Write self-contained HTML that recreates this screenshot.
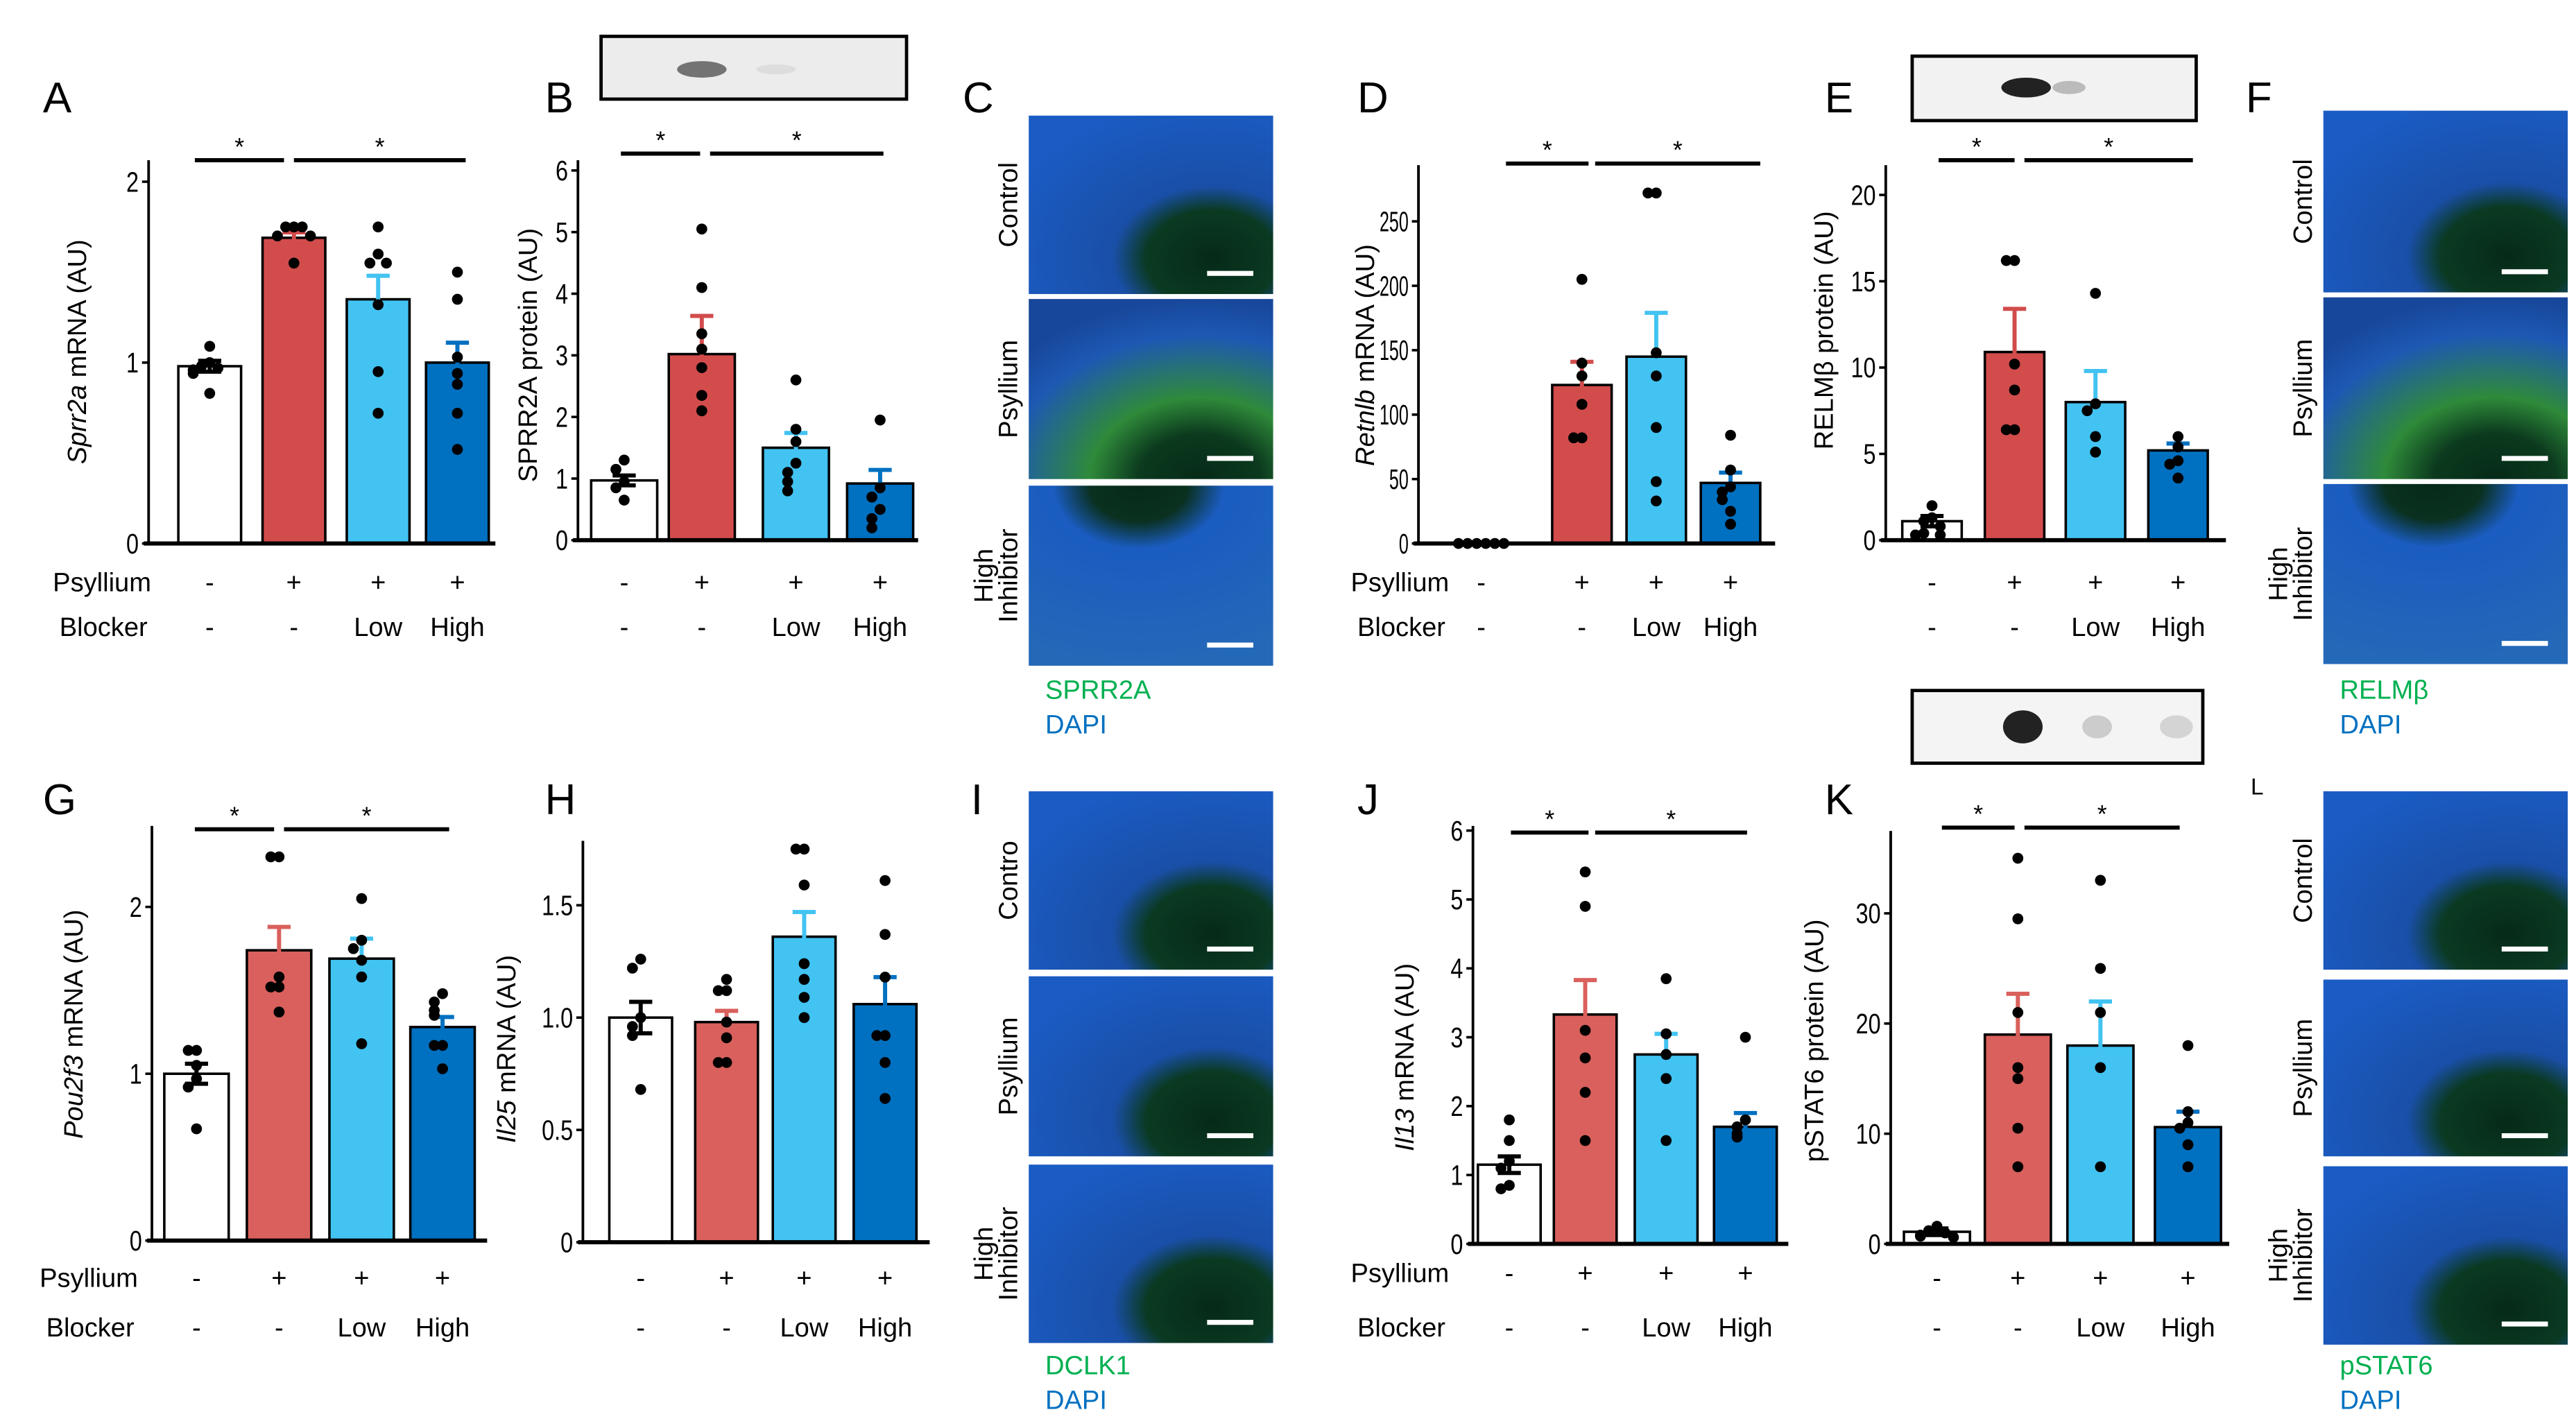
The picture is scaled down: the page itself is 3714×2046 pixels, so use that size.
<!DOCTYPE html>
<html><head><meta charset="utf-8"><style>
html,body{margin:0;padding:0;background:#fff;}
svg{display:block;font-family:"Liberation Sans",Arial,sans-serif;}
</style></head><body>
<svg id="fig" width="3714" height="2046" viewBox="0 0 1560 859" preserveAspectRatio="none" xmlns="http://www.w3.org/2000/svg">
<defs>
<radialGradient id="tis" cx="0.75" cy="0.8" r="0.9">
<stop offset="0" stop-color="#062a18"/><stop offset="0.3" stop-color="#0a3a22"/><stop offset="0.45" stop-color="#1a4fa8"/><stop offset="1" stop-color="#1a5cc4"/></radialGradient>
<radialGradient id="tisG" cx="0.7" cy="1" r="1"><stop offset="0" stop-color="#062a18"/><stop offset="0.25" stop-color="#0b3a1e"/><stop offset="0.45" stop-color="#2f8a3a"/><stop offset="0.8" stop-color="#1d58b4"/><stop offset="1" stop-color="#17479a"/></radialGradient>
<radialGradient id="tisT" cx="0.45" cy="0" r="1"><stop offset="0" stop-color="#062a18"/><stop offset="0.2" stop-color="#0a3020"/><stop offset="0.35" stop-color="#1a5cc0"/><stop offset="1" stop-color="#2468b8"/></radialGradient>
</defs>
<g id="static">
<text x="26" y="68" font-size="26">A</text>
<text x="330" y="68" font-size="26">B</text>
<text x="583" y="68" font-size="26">C</text>
<text x="822" y="68" font-size="26">D</text>
<text x="1105" y="68" font-size="26">E</text>
<text x="1360" y="68" font-size="26">F</text>
<text x="26" y="493" font-size="26">G</text>
<text x="330" y="493" font-size="26">H</text>
<text x="588" y="493" font-size="26">I</text>
<text x="822" y="493" font-size="26">J</text>
<text x="1105" y="493" font-size="26">K</text>
<text x="1363" y="481" font-size="14">L</text>
<g><rect x="364" y="22" width="185" height="38" fill="#ececec" stroke="#000" stroke-width="2"/><ellipse cx="425" cy="42" rx="15" ry="5" fill="#555" opacity="0.8"/><ellipse cx="470" cy="42" rx="12" ry="3" fill="#ddd"/></g>
<g><rect x="1158" y="34" width="172" height="39" fill="#f2f2f2" stroke="#000" stroke-width="2"/><ellipse cx="1227" cy="53" rx="15" ry="6" fill="#222"/><ellipse cx="1253" cy="53" rx="10" ry="4" fill="#bbb"/></g>
<g><rect x="1158" y="418" width="176" height="44" fill="#f4f4f4" stroke="#000" stroke-width="2"/><ellipse cx="1225" cy="440" rx="12" ry="10" fill="#222"/><ellipse cx="1270" cy="440" rx="9" ry="7" fill="#ccc"/><ellipse cx="1318" cy="440" rx="10" ry="7" fill="#d4d4d4"/></g>
</g>
<g id="charts"></g>
<g id="images"></g>
</svg>
<script>
const NS='http://www.w3.org/2000/svg';
// ---- data ----
const groups=['Vehicle','Psyllium','Psyllium + Low blocker','Psyllium + High blocker'];
const psylliumRow=['-','+','+','+'];
const blockerRow=['-','-','Low','High'];
const aTicks=[0,1,2];
const aMeans=[0.98,1.69,1.35,1.0];
const aErrs=[0.03,0.03,0.13,0.11];
const aDots=[[1.09,1.0,0.98,0.97,0.96,0.94,0.83],[1.75,1.75,1.75,1.70,1.70,1.55],[1.75,1.60,1.55,1.55,1.32,0.95,0.72],[1.5,1.35,1.03,0.94,0.88,0.72,0.52]];
const bTicks=[0,1,2,3,4,5,6];
const bMeans=[0.97,3.02,1.5,0.92];
const bErrs=[0.08,0.62,0.24,0.22];
const bDots=[[1.3,1.15,0.95,0.85,0.65],[5.05,4.1,3.35,3.1,2.8,2.35,2.1],[2.6,1.8,1.6,1.25,1.1,0.95,0.8],[1.95,0.85,0.7,0.5,0.35,0.2]];
const dTicks=[0,50,100,150,200,250];
const dMeans=[0,123,145,47];
const dErrs=[0,18,34,8];
const dDots=[[0,0,0,0,0,0],[205,140,130,108,82,82],[272,272,148,130,90,48,33],[84,57,44,40,34,25,15]];
const eTicks=[0,5,10,15,20];
const eMeans=[1.1,10.9,8.0,5.2];
const eErrs=[0.3,2.5,1.8,0.4];
const eDots=[[2.0,1.3,1.1,0.8,0.4,0.3,0.3],[16.2,16.2,10.2,8.7,6.4,6.4],[14.3,7.9,7.5,6.0,5.1],[6.0,5.4,4.6,4.4,3.6]];
const gTicks=[0,1,2];
const gMeans=[1.0,1.74,1.69,1.28];
const gErrs=[0.06,0.14,0.12,0.06];
const gDots=[[1.14,1.14,1.05,0.97,0.92,0.67],[2.3,2.3,1.58,1.52,1.52,1.37],[2.05,1.8,1.75,1.68,1.58,1.18],[1.48,1.43,1.38,1.35,1.17,1.17,1.03]];
const hTicks=[0,0.5,1.0,1.5];
const hTickLabels=['0','0.5','1.0','1.5'];
const hMeans=[1.0,0.98,1.36,1.06];
const hErrs=[0.07,0.05,0.11,0.12];
const hDots=[[1.26,1.22,1.0,0.96,0.92,0.68],[1.17,1.12,1.12,0.98,0.91,0.8,0.8],[1.75,1.75,1.59,1.24,1.17,1.09,1.0],[1.61,1.37,1.18,0.92,0.92,0.8,0.64]];
const jTicks=[0,1,2,3,4,5,6];
const jMeans=[1.15,3.33,2.75,1.7];
const jErrs=[0.12,0.5,0.3,0.2];
const jDots=[[1.8,1.5,1.2,1.1,0.85,0.8],[5.4,4.9,3.1,2.7,2.2,1.5],[3.85,3.05,2.75,2.4,1.5],[3.0,1.8,1.7,1.6,1.55]];
const kTicks=[0,10,20,30];
const kMeans=[1.1,19,18,10.6];
const kErrs=[0.3,3.7,4.0,1.4];
const kDots=[[1.6,1.2,1.0,0.8,0.7,0.6],[35,29.5,21,16,15,10.5,7],[33,25,21,16,7],[18,12,11,10.5,9,7]];
// ---- layout (not data) ----
const colors=['#ffffff','#d24c4c','#42c3f2','#0070c0'];
const gColors=['#ffffff','#d9605c','#42c3f2','#0070c0'];
const panels=[
 {id:'a',ax:90,base:329,top:97,ppu:109.5,cx:[127,178,229,277],bw:38,xEnd:300,ticks:aTicks,means:aMeans,errs:aErrs,dots:aDots,title:['Sprr2a',' mRNA (AU)'],tx:52,ty:213,sig:[97,118,172,178,282],rows:[352,379],rowLabelX:32,colors:colors},
 {id:'b',ax:350,base:327,top:97,ppu:37.3,cx:[378,425,482,533],bw:40,xEnd:556,ticks:bTicks,means:bMeans,errs:bErrs,dots:bDots,title:['','SPRR2A protein (AU)'],tx:325,ty:215,sig:[93,376,424,430,535],rows:[352,379],rowLabelX:null,colors:colors},
 {id:'d',ax:859,base:329,top:100,ppu:0.78,cx:[897,958,1003,1048],bw:36,xEnd:1075,ticks:dTicks,means:dMeans,errs:dErrs,dots:dDots,title:['Retnlb',' mRNA (AU)'],tx:832,ty:215,sig:[99,912,962,966,1066],rows:[352,379],rowLabelX:818,colors:colors,dotSpread:true,tickScale:0.62},
 {id:'e',ax:1142,base:327,top:100,ppu:10.45,cx:[1170,1220,1269,1319],bw:36,xEnd:1348,ticks:eTicks,means:eMeans,errs:eErrs,dots:eDots,title:['','RELMβ protein (AU)'],tx:1110,ty:200,sig:[97,1174,1220,1226,1328],rows:[352,379],rowLabelX:null,colors:colors},
 {id:'g',ax:92,base:751,top:500,ppu:101,cx:[119,169,219,268],bw:39,xEnd:295,ticks:gTicks,means:gMeans,errs:gErrs,dots:gDots,title:['Pou2f3',' mRNA (AU)'],tx:50,ty:620,sig:[502,118,166,172,272],rows:[773,803],rowLabelX:24,colors:gColors},
 {id:'h',ax:353,base:752,top:509,ppu:136,cx:[388,440,487,536],bw:38,xEnd:563,ticks:hTicks,labels:hTickLabels,means:hMeans,errs:hErrs,dots:hDots,title:['Il25',' mRNA (AU)'],tx:312,ty:635,sig:null,rows:[773,803],rowLabelX:null,colors:gColors},
 {id:'j',ax:892,base:753,top:500,ppu:41.7,cx:[914,960,1009,1057],bw:38,xEnd:1083,ticks:jTicks,means:jMeans,errs:jErrs,dots:jDots,title:['Il13',' mRNA (AU)'],tx:856,ty:640,sig:[504,915,962,966,1058],rows:[770,803],rowLabelX:818,colors:gColors},
 {id:'k',ax:1145,base:753,top:503,ppu:6.67,cx:[1173,1222,1272,1325],bw:40,xEnd:1350,ticks:kTicks,means:kMeans,errs:kErrs,dots:kDots,title:['','pSTAT6 protein (AU)'],tx:1104,ty:630,sig:[501,1176,1220,1226,1320],rows:[773,803],rowLabelX:null,colors:gColors}
];
function mk(tag,attrs,parent){const e=document.createElementNS(NS,tag);for(const k in attrs)e.setAttribute(k,attrs[k]);parent.appendChild(e);return e;}
const root=document.getElementById('charts');
panels.forEach(p=>{
 const g=mk('g',{},root);
 
 
 const Y=v=>p.base-v*p.ppu;
 p.means.forEach((m,i)=>{
  const r=mk('rect',{x:p.cx[i]-p.bw/2,y:Y(m),width:p.bw,height:p.base-Y(m),fill:p.colors[i],stroke:'#000','stroke-width':1.5},g);
  
  
 });
 p.means.forEach((m,i)=>{
  if(p.errs[i]<=0)return;
  const c=i===0?'#000':p.colors[i];
  const eg=mk('g',{stroke:c,'stroke-width':2.5},g);
  
  
  mk('line',{x1:p.cx[i],x2:p.cx[i],y1:Y(m-p.errs[i]),y2:Y(m+p.errs[i])},eg);
  mk('line',{x1:p.cx[i]-7,x2:p.cx[i]+7,y1:Y(m+p.errs[i]),y2:Y(m+p.errs[i])},eg);
  mk('line',{x1:p.cx[i]-7,x2:p.cx[i]+7,y1:Y(m-p.errs[i]),y2:Y(m-p.errs[i])},eg);
 });
 p.dots.forEach((arr,i)=>{
  const placed=[];
  arr.forEach((v,j)=>{
   const yy=Y(v);
   let n=placed.filter(q=>Math.abs(q-yy)<6).length;
   placed.push(yy);
   let off=p.dotSpread&&i===0?(j-(arr.length-1)/2)*5.5:(n===0?0:(n%2?-1:1)*Math.ceil(n/2)*5);
   const c=mk('circle',{cx:p.cx[i]+off,cy:yy,r:3.3,fill:'#000'},g);
   
   
  });
 });
 const ya=mk('line',{x1:p.ax,x2:p.ax,y1:p.top,y2:p.base+1,stroke:'#000','stroke-width':1.6},g);
 
 
 const xa=mk('line',{x1:p.ax-3,x2:p.xEnd,y1:p.base,y2:p.base,stroke:'#000','stroke-width':2.5},g);
 
 
 const sc=p.tickScale||0.8;
 p.ticks.forEach((t,i)=>{
  mk('line',{x1:p.ax-4,x2:p.ax,y1:Y(t),y2:Y(t),stroke:'#000','stroke-width':1.5},g);
  const tl=mk('text',{x:p.ax-6,y:Y(t)+6,'font-size':17,'text-anchor':'end',transform:'translate('+(p.ax-6)+' 0) scale('+sc+' 1) translate('+(-(p.ax-6))+' 0)'},g);
  tl.textContent=p.labels?p.labels[i]:String(t);
  
  
 });
 const tt=mk('text',{x:0,y:0,'font-size':16,'text-anchor':'middle',transform:'translate('+p.tx+' '+p.ty+') rotate(-90)'},g);
 
 
 if(p.title[0]){const it=mk('tspan',{'font-style':'italic'},tt);it.textContent=p.title[0];}
 const rest=mk('tspan',{},tt);rest.textContent=p.title[1];
 if(p.sig){
  const s=p.sig;
  const sg=mk('g',{},g);
  
  
  mk('line',{x1:s[1],x2:s[2],y1:s[0],y2:s[0],stroke:'#000','stroke-width':2.5},sg);
  mk('line',{x1:s[3],x2:s[4],y1:s[0],y2:s[0],stroke:'#000','stroke-width':2.5},sg);
  [ (s[1]+s[2])/2, (s[3]+s[4])/2 ].forEach(x=>{const a=mk('text',{x:x,y:s[0]-3,'font-size':15,'text-anchor':'middle'},sg);a.textContent='*';});
 }
 const rg=mk('g',{'font-size':16},g);
 
 
 if(p.rowLabelX!==null){
  const l1=mk('text',{x:p.rowLabelX,y:p.rows[0]+6},rg);l1.textContent='Psyllium';
  const l2=mk('text',{x:p.rowLabelX+4,y:p.rows[1]+6},rg);l2.textContent='Blocker';
 }
 p.cx.forEach((x,i)=>{
  const a=mk('text',{x:x,y:p.rows[0]+6,'text-anchor':'middle'},rg);a.textContent=psylliumRow[i];
  const b=mk('text',{x:x,y:p.rows[1]+6,'text-anchor':'middle'},rg);b.textContent=blockerRow[i];
 });
});
const imgs=[
 {x:623,ys:[70,181,294],h:[108,109,109],labels:['Control','Psyllium','High|Inhibitor'],marker:'SPRR2A',ly:417,fills:['url(#tis)','url(#tisG)','url(#tisT)'],key:'c'},
 {x:1407,ys:[67,180,293],h:[110,110,109],labels:['Control','Psyllium','High|Inhibitor'],marker:'RELMβ',ly:417,fills:['url(#tis)','url(#tisG)','url(#tisT)'],key:'f'},
 {x:623,ys:[479,591,705],h:[108,109,108],labels:['Contro','Psyllium','High|Inhibitor'],marker:'DCLK1',ly:826,fills:['url(#tis)','url(#tis)','url(#tis)'],key:'i'},
 {x:1407,ys:[479,593,706],h:[108,107,108],labels:['Control','Psyllium','High|Inhibitor'],marker:'pSTAT6',ly:826,fills:['url(#tis)','url(#tis)','url(#tis)'],key:'l'}
];
const ig=document.getElementById('images');
imgs.forEach(m=>{
 const g=mk('g',{},ig);
 
 
 m.ys.forEach((y,i)=>{
  const r=mk('rect',{x:m.x,y:y,width:148,height:m.h[i],fill:m.fills[i]},g);
  
  
  mk('rect',{x:m.x+108,y:y+m.h[i]-14,width:28,height:3,fill:'#fff'},g);
  const parts=m.labels[i].split('|');
  const cy=y+m.h[i]/2;
  if(parts.length===1){
   const t=mk('text',{'font-size':16,'text-anchor':'middle',transform:'translate('+(m.x-7)+' '+cy+') rotate(-90)'},g);t.textContent=parts[0];
  }else{
   const t1=mk('text',{'font-size':16,'text-anchor':'middle',transform:'translate('+(m.x-22)+' '+cy+') rotate(-90)'},g);t1.textContent=parts[0];
   const t2=mk('text',{'font-size':16,'text-anchor':'middle',transform:'translate('+(m.x-7)+' '+cy+') rotate(-90)'},g);t2.textContent=parts[1];
  }
 });
 const a=mk('text',{x:m.x+10,y:m.ly+6,'font-size':16,fill:'#00b050'},g);a.textContent=m.marker;
 
 
 const b=mk('text',{x:m.x+10,y:m.ly+27,'font-size':16,fill:'#0070c0'},g);b.textContent='DAPI';
 
 
});
</script>
</body></html>
